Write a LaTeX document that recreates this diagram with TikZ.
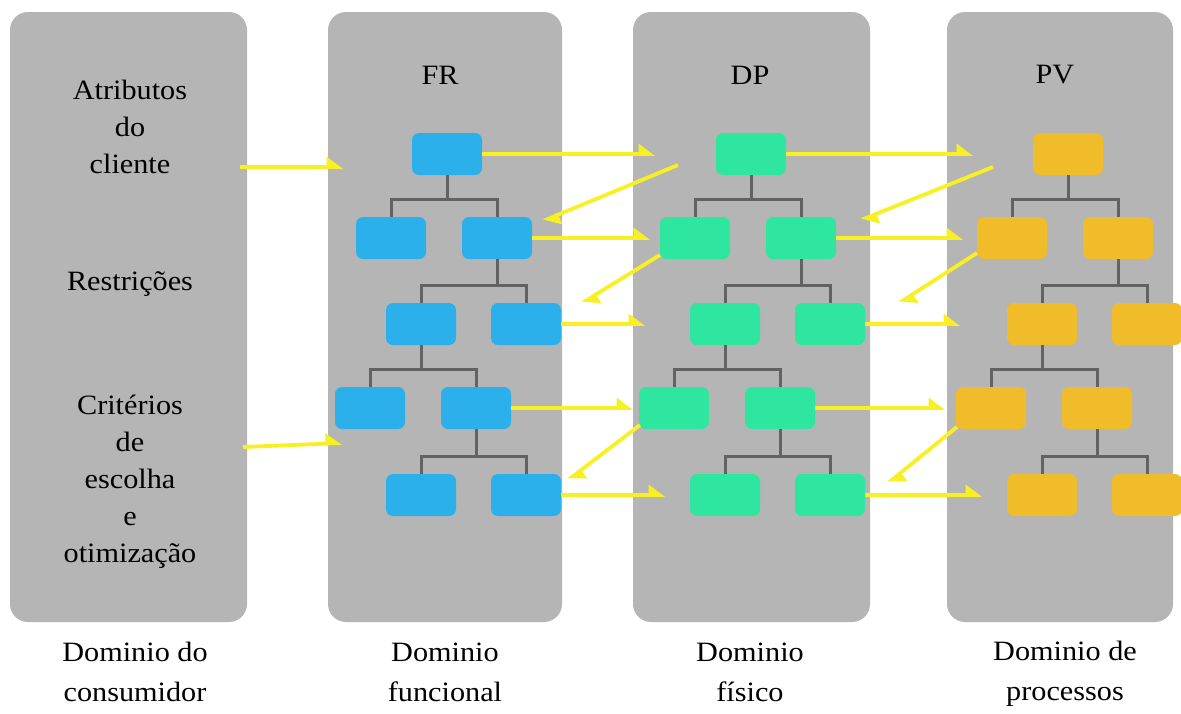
\documentclass[tikz,border=0pt]{standalone}
\usepackage{fontspec}
\setmainfont{Liberation Serif}
\newfontfamily\widefont[FakeStretch=1.08]{Liberation Serif}
\usetikzlibrary{arrows.meta}

\definecolor{panelgray}{RGB}{181,181,181}
\definecolor{frblue}{RGB}{43,176,235}
\definecolor{dpgreen}{RGB}{46,230,160}
\definecolor{pvgold}{RGB}{240,188,42}
\definecolor{linkyellow}{RGB}{248,240,35}
\definecolor{treeline}{RGB}{98,98,98}

\tikzset{
  panel/.style={fill=panelgray, rounded corners=18pt, draw=none, inner sep=0pt},
  leaf/.style={minimum width=70pt, minimum height=42pt, rounded corners=7pt, inner sep=0pt, draw=none},
  tline/.style={draw=treeline, line width=3pt},
  link/.style={draw=linkyellow, line width=3.8pt, -{Triangle[harpoon,length=14pt,width=20pt]}},
  dtext/.style={font=\widefont\fontsize{28}{37}\selectfont, align=center, text=black, inner sep=0pt},
  foot/.style={font=\widefont\fontsize{28}{40}\selectfont, align=center, text=black, inner sep=0pt}
}

% parent #1 with children #2 and #3
\newcommand\branch[3]{%
  \draw[tline] (#1.south) |- ([yshift=17pt]#2.north) -- (#2.north);
  \draw[tline] (#1.south) |- ([yshift=17pt]#3.north) -- (#3.north);
}

% decomposition tree: name prefix, horizontal offset, fill colour
\newcommand\domaintree[3]{%
  \node[leaf,fill=#3] (#1-1)  at (447+#2,154) {};
  \node[leaf,fill=#3] (#1-2a) at (391+#2,238) {};
  \node[leaf,fill=#3] (#1-2b) at (497+#2,238) {};
  \node[leaf,fill=#3] (#1-3a) at (421+#2,324) {};
  \node[leaf,fill=#3] (#1-3b) at (526+#2,324) {};
  \node[leaf,fill=#3] (#1-4a) at (370+#2,408) {};
  \node[leaf,fill=#3] (#1-4b) at (476+#2,408) {};
  \node[leaf,fill=#3] (#1-5a) at (421+#2,495) {};
  \node[leaf,fill=#3] (#1-5b) at (526+#2,495) {};
  \branch{#1-1}{#1-2a}{#1-2b}
  \branch{#1-2b}{#1-3a}{#1-3b}
  \branch{#1-3a}{#1-4a}{#1-4b}
  \branch{#1-4b}{#1-5a}{#1-5b}
}

\begin{document}
\begin{tikzpicture}[x=1pt,y=-1pt]
\useasboundingbox (0,0) rectangle (1181,713);
\clip (0,0) rectangle (1181,713);

% domain panels
\node[panel, minimum width=237pt, minimum height=610pt] (pc) at (128.5,317) {};
\node[panel, minimum width=234pt, minimum height=610pt] (pf) at (445,317) {};
\node[panel, minimum width=237pt, minimum height=610pt] (pd) at (751.5,317) {};
\node[panel, minimum width=226pt, minimum height=610pt] (pp) at (1060,317) {};

% customer domain texts
\node[dtext] (attr) at (130,127) {Atributos\\do\\cliente};
\node[dtext] (restr) at (130,284) {Restrições};
\node[dtext] (crit) at (130,482) {Critérios\\de\\escolha\\e\\otimização};

% column headers
\node[dtext] (hfr) at (440,75) {FR};
\node[dtext] (hdp) at (750,75) {DP};
\node[dtext] (hpv) at (1055,75) {PV};

% hierarchies
\domaintree{fr}{0}{frblue}
\domaintree{dp}{304}{dpgreen}
\domaintree{pv}{621}{pvgold}

% free ends of the mapping arrows
\coordinate (c1) at (343,167);
\coordinate (c2s) at (243,447);
\coordinate (c2) at (342,443);
\coordinate (c3) at (655,154);
\coordinate (c5) at (650,238);
\coordinate (c7) at (645,324);
\coordinate (c8) at (633,408);
\coordinate (c10) at (665,495);
\coordinate (c11) at (973,154);
\coordinate (c13) at (963,238);
\coordinate (c15) at (960,324);
\coordinate (c16) at (945,408);
\coordinate (c18) at (982,495);
\coordinate (z4s) at (678,165);
\coordinate (z4) at (543,221);
\coordinate (z6s) at (660,255);
\coordinate (z6) at (582,303);
\coordinate (z9s) at (640,425);
\coordinate (z9) at (568,480);
\coordinate (z12s) at (993,167);
\coordinate (z12) at (861,220);
\coordinate (z14s) at (977,253);
\coordinate (z14) at (899,303);
\coordinate (z17s) at (957,427);
\coordinate (z17) at (888,483);

% customer -> functional
\draw[link] ([xshift=-7pt]pc.east |- c1) -- (c1);
\draw[link] (c2s) -- (c2);

% functional -> physical
\draw[link] (fr-1.east) -- (c3);
\draw[link] (fr-2b.east) -- (c5);
\draw[link] (fr-3b.east) -- (c7);
\draw[link] (fr-4b.east) -- (c8);
\draw[link] (fr-5b.east) -- (c10);

% physical -> process
\draw[link] (dp-1.east) -- (c11);
\draw[link] (dp-2b.east) -- (c13);
\draw[link] (dp-3b.east) -- (c15);
\draw[link] (dp-4b.east) -- (c16);
\draw[link] (dp-5b.east) -- (c18);

% zigzag back-links
\draw[link] (z4s) -- (z4);
\draw[link] (z6s) -- (z6);
\draw[link] (z9s) -- (z9);
\draw[link] (z12s) -- (z12);
\draw[link] (z14s) -- (z14);
\draw[link] (z17s) -- (z17);

% domain names
\node[foot] (ncons) at (135,672) {Dominio do\\consumidor};
\node[foot] (nfunc) at (445,672) {Dominio\\funcional};
\node[foot] (nfis) at (750,672) {Dominio\\físico};
\node[foot] (nproc) at (1065,674) {Dominio de\\processos};
\end{tikzpicture}
\end{document}
